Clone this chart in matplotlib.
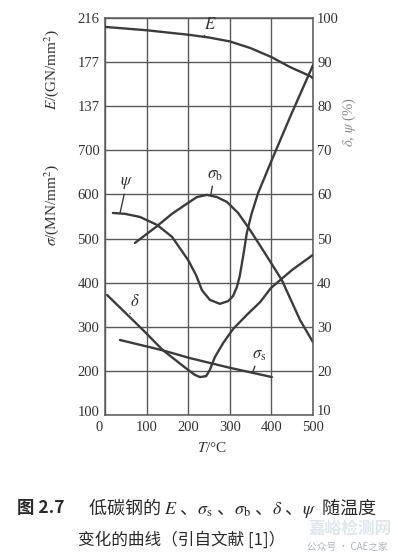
import numpy as np
import matplotlib.pyplot as plt
import matplotlib.transforms as mtransforms

plt.rcParams['font.family'] = ['Liberation Serif', 'Noto Sans CJK SC']
plt.rcParams['mathtext.fontset'] = 'stix'

# 数据
T_E = [0, 100, 200, 250, 300, 350, 400, 445, 493, 500]
E_vals = [208, 205, 201, 198.5, 195, 189, 181, 172, 164, 162]

T_psi = [19, 48, 84, 125, 161, 200, 219, 233, 252, 276, 296, 308, 317, 324, 333, 341,
         352, 368, 401, 447, 500]
psi_vals = [55.8, 55.6, 54.9, 53.1, 50.4, 45.1, 41.7, 38.3, 36.1, 35.2, 35.8, 37.0, 39.0,
            41.5, 46.5, 51.3, 55.5, 60.3, 67.8, 78.0, 89.3]

T_sb = [72, 125, 161, 200, 221, 245, 269, 293, 320, 349, 387, 425, 469, 500]
sb_vals = [490, 528, 556, 581, 594, 599, 594, 583, 558, 519, 463, 406, 315, 265]

T_delta = [5, 91, 139, 200, 216, 228, 243, 252, 264, 284, 308, 341, 373, 399, 450, 500]
delta_vals = [37.2, 29.3, 24.7, 20.2, 19.1, 18.6, 18.8, 20.2, 23.1, 26.3, 29.5, 32.7,
              35.6, 38.8, 42.9, 46.3]

T_ss = [36, 137, 204, 300, 401]
ss_vals = [270, 247, 229, 207, 186]

sigma_ticks = [100, 200, 300, 400, 500, 600, 700]
E_ticks = [137, 177, 216]
pct_ticks = [10, 20, 30, 40, 50, 60, 70, 80, 90, 100]
T_ticks = [0, 100, 200, 300, 400, 500]

line_c = '#3c3c3c'
grid_c = '#5a5a5a'
txt_c = '#333333'

fig = plt.figure(figsize=(3.98, 5.58), dpi=100)
ax = fig.add_axes([0.2638, 0.2563, 0.5226, 0.7115])

# sigma 轴, 上面三格留给 E
ax.set_xlim(0, 500)
ax.set_ylim(100, 1000)
ax.set_xticks(T_ticks)
ax.set_yticks(sigma_ticks + [800, 900, 1000])
ax.set_yticklabels([str(v) for v in sigma_ticks] + [str(v) for v in E_ticks])
ax.grid(True, color=grid_c, lw=1.0)
ax.tick_params(length=0, labelsize=10.5, colors=txt_c, pad=4)
for s in ax.spines.values():
    s.set_color(grid_c)
    s.set_linewidth(1.1)

def shift(lab, dx, dy):
    lab.set_transform(lab.get_transform() + mtransforms.ScaledTranslation(dx, dy, fig.dpi_scale_trans))

# "0" 往左, "100" 往上
shift(ax.get_xticklabels()[0], -0.06, 0)
shift(ax.get_yticklabels()[0], 0, 0.04)

# E 轴 (不显示刻度)
axE = ax.twinx()
step = (E_ticks[-1] - E_ticks[0]) / 2.0
axE.set_ylim(E_ticks[-1] - 9 * step, E_ticks[-1])
axE.axis('off')

# 百分比轴
axP = ax.twinx()
axP.set_ylim(10, 100)
axP.set_yticks(pct_ticks)
axP.tick_params(length=0, labelsize=10.5, colors=txt_c, pad=3)
for s in axP.spines.values():
    s.set_visible(False)
shift(axP.get_yticklabels()[0], 0, 0.05)

kw = dict(color=line_c, lw=1.7, solid_joinstyle='round', solid_capstyle='round')
axE.plot(T_E, E_vals, **kw)
axP.plot(T_psi, psi_vals, **kw)
ax.plot(T_sb, sb_vals, **kw)
axP.plot(T_delta, delta_vals, **kw)
ax.plot(T_ss, ss_vals, **kw)

# 曲线标注
arr = dict(arrowstyle='-', color=line_c, lw=1.0, shrinkA=0, shrinkB=0)
axE.annotate('$E$', xy=(238, 199.5), xytext=(254, 210), fontsize=12, color=txt_c,
             ha='center', va='center', arrowprops=arr)
axP.annotate(r'$\psi$', xy=(36, 55.7), xytext=(52, 62.5), fontsize=12, color=txt_c,
             ha='center', va='center', arrowprops=arr)
ax.annotate(r'$\sigma_\mathrm{b}$', xy=(254, 598), xytext=(263, 643), fontsize=12, color=txt_c,
            ha='center', va='center', arrowprops=arr)
axP.annotate(r'$\delta$', xy=(60, 33), xytext=(72, 35.5), fontsize=12, color=txt_c,
             ha='center', va='center', arrowprops=arr)
ax.annotate(r'$\sigma_\mathrm{s}$', xy=(355, 197), xytext=(370, 235), fontsize=12, color=txt_c,
            ha='center', va='center', arrowprops=arr)

# 坐标轴标题
fig.text(52 / 398, 1 - 69 / 558, '$E$/(GN/mm$^2$)', rotation=90, ha='center', va='center',
         fontsize=11, color=txt_c)
fig.text(52 / 398, 1 - 205 / 558, r'$\sigma$/(MN/mm$^2$)', rotation=90, ha='center', va='center',
         fontsize=11, color=txt_c)
fig.text(349 / 398, 1 - 122 / 558, r'$\delta$, $\psi$ (%)', rotation=90, ha='center', va='center',
         fontsize=10.5, color='#8a8a8a')
fig.text(212 / 398, 1 - 448 / 558, '$T$/°C', ha='center', va='center', fontsize=11, color=txt_c)

# 图题
cap = ['Noto Sans CJK SC', 'DejaVu Sans']
fig.text(17 / 398, 1 - 508 / 558, '图 2.7', ha='left', va='center', fontsize=12.5,
         fontweight='bold', family=cap, color='#2a2a2a')
fig.text(88 / 398, 1 - 508 / 558,
         r'低碳钢的 $E$ 、$\sigma_\mathrm{s}$ 、$\sigma_\mathrm{b}$ 、$\delta$ 、$\psi$  随温度',
         ha='left', va='center', fontsize=13, family=cap, color='#2a2a2a')
fig.text(78 / 398, 1 - 540 / 558, '变化的曲线（引自文献 [1]）', ha='left', va='center',
         fontsize=12, family=cap, color='#2a2a2a')

# 水印
fig.text(392 / 398, 1 - 529 / 558, '嘉峪检测网', ha='right', va='center', fontsize=12,
         family=cap, color='#c4d1db', alpha=0.55, fontweight='bold')
fig.text(388 / 398, 1 - 547 / 558, '公众号 · CAE之家', ha='right', va='center', fontsize=7,
         family=cap, color='#9aa4ab', alpha=0.8)

fig.savefig('out.png', dpi=100)
